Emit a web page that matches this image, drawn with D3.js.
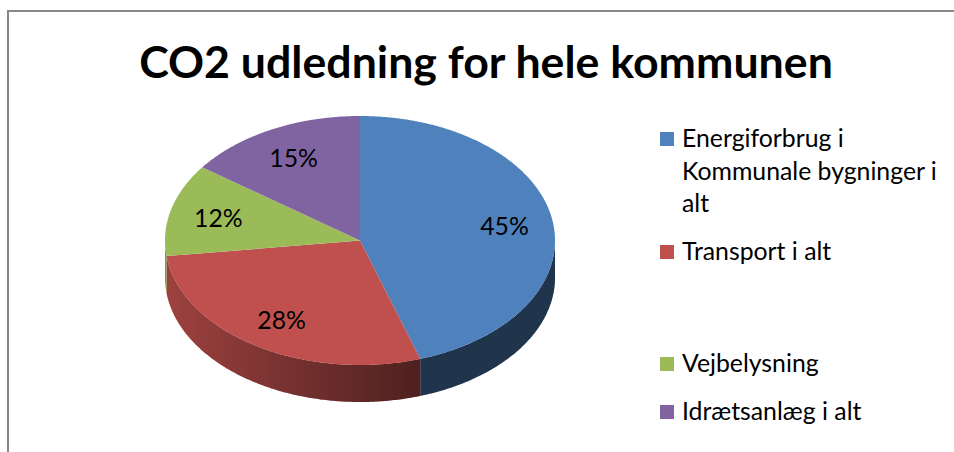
<!DOCTYPE html>
<html>
<head>
<meta charset="utf-8">
<script src="https://cdn.jsdelivr.net/npm/d3@7/dist/d3.min.js"></script>
<style>
  html, body { margin: 0; padding: 0; background: #fff; }
  svg { display: block; }
</style>
</head>
<body>
<svg id="chart" width="954" height="452"></svg>
<script>
// ---- data ----
const title = "CO2 udledning for hele kommunen";
const categories = [
  "Energiforbrug i Kommunale bygninger i alt",
  "Transport i alt",
  "Vejbelysning",
  "Idrætsanlæg i alt"
];
const legendLines = [
  ["Energiforbrug i", "Kommunale bygninger i", "alt"],
  ["Transport i alt"],
  ["Vejbelysning"],
  ["Idrætsanlæg i alt"]
];
const values = [45, 28, 12, 15];
const colors = ["#4f81bd", "#c0504d", "#9bbb59", "#8064a2"];

// ---- layout ----
const W = 954, H = 452;
const cx = 360, cy = 240.5, rx = 195, ry = 124.5, depth = 37;
const labelK = 0.75;
const legendX = 660, legendTextX = 682, legendLineH = 32.5, sq = 14;
const legendBaselines = [147, 260, 372, 420];
const fontFamily = "Lato, 'Open Sans', 'DejaVu Sans', sans-serif";

const svg = d3.select("#chart");

// frame
svg.append("rect")
  .attr("x", 8).attr("y", 11).attr("width", W + 10).attr("height", H + 10)
  .attr("fill", "none").attr("stroke", "#878787").attr("stroke-width", 2);

// title, fitted to reference width
const t = svg.append("text")
  .attr("x", 486).attr("y", 78)
  .attr("text-anchor", "middle")
  .attr("font-family", fontFamily)
  .attr("font-weight", "bold")
  .attr("font-size", 44)
  .attr("fill", "#000")
  .text(title);
{
  const w = t.node().getComputedTextLength();
  t.attr("font-size", 44 * 694 / w);
}

// ---- pie ----
const pie = d3.pie().sort(null).startAngle(0).endAngle(2 * Math.PI);
const arcs = pie(values);
const px = a => cx + rx * Math.sin(a);
const py = (a, dy = 0) => cy - ry * Math.cos(a) + dy;

function samples(a0, a1) {
  const n = Math.max(2, Math.ceil(Math.abs(a1 - a0) / 0.01));
  return d3.range(n + 1).map(i => a0 + (a1 - a0) * i / n);
}

const defs = svg.append("defs");
const shade = defs.append("linearGradient")
  .attr("id", "sideShade")
  .attr("gradientUnits", "userSpaceOnUse")
  .attr("x1", cx - rx).attr("x2", cx + rx).attr("y1", 0).attr("y2", 0);
shade.append("stop").attr("offset", 0).attr("stop-color", "#000").attr("stop-opacity", 0.18);
shade.append("stop").attr("offset", 0.66).attr("stop-color", "#000").attr("stop-opacity", 0.6);
shade.append("stop").attr("offset", 1).attr("stop-color", "#000").attr("stop-opacity", 0.6);

// side walls (front half only: PI/2 .. 3PI/2)
const sideG = svg.append("g");
arcs.forEach((d, i) => {
  const a0 = Math.max(d.startAngle, Math.PI / 2);
  const a1 = Math.min(d.endAngle, 3 * Math.PI / 2);
  if (a1 <= a0) return;
  const top = samples(a0, a1).map(a => [px(a), py(a)]);
  const bot = samples(a1, a0).map(a => [px(a), py(a, depth)]);
  const path = "M" + top.concat(bot).map(p => p.join(",")).join("L") + "Z";
  sideG.append("path").attr("d", path).attr("fill", colors[i]);
  sideG.append("path").attr("d", path).attr("fill", "url(#sideShade)");
});

// top faces
const topG = svg.append("g");
arcs.forEach((d, i) => {
  const pts = [[cx, cy]].concat(samples(d.startAngle, d.endAngle).map(a => [px(a), py(a)]));
  topG.append("path")
    .attr("d", "M" + pts.map(p => p.join(",")).join("L") + "Z")
    .attr("fill", colors[i]);
});

// data labels
const total = d3.sum(values);
const labelG = svg.append("g")
  .attr("font-family", fontFamily)
  .attr("font-size", 22)
  .attr("fill", "#000");
const labels = labelG.selectAll("text").data(arcs).join("text")
  .attr("text-anchor", "middle")
  .attr("dominant-baseline", "central")
  .attr("x", d => cx + labelK * rx * Math.sin((d.startAngle + d.endAngle) / 2))
  .attr("y", d => cy - labelK * ry * Math.cos((d.startAngle + d.endAngle) / 2))
  .text(d => Math.round(d.value / total * 100) + "%");

// ---- legend ----
const legG = svg.append("g")
  .attr("font-family", fontFamily)
  .attr("font-size", 22)
  .attr("fill", "#000");
categories.forEach((c, i) => {
  const b = legendBaselines[i];
  legG.append("rect")
    .attr("x", legendX).attr("y", b - sq - 1)
    .attr("width", sq).attr("height", sq)
    .attr("fill", colors[i]);
  legendLines[i].forEach((ln, j) => {
    legG.append("text")
      .attr("x", legendTextX)
      .attr("y", b + j * legendLineH)
      .text(ln);
  });
});
// fit legend font to reference width of the longest line
{
  const ref = legG.selectAll("text").filter(function() { return this.textContent === "Kommunale bygninger i"; });
  const w = ref.node().getComputedTextLength();
  const fs = 22 * 255 / w;
  legG.attr("font-size", fs);
  labelG.attr("font-size", fs);
}
</script>
</body>
</html>
